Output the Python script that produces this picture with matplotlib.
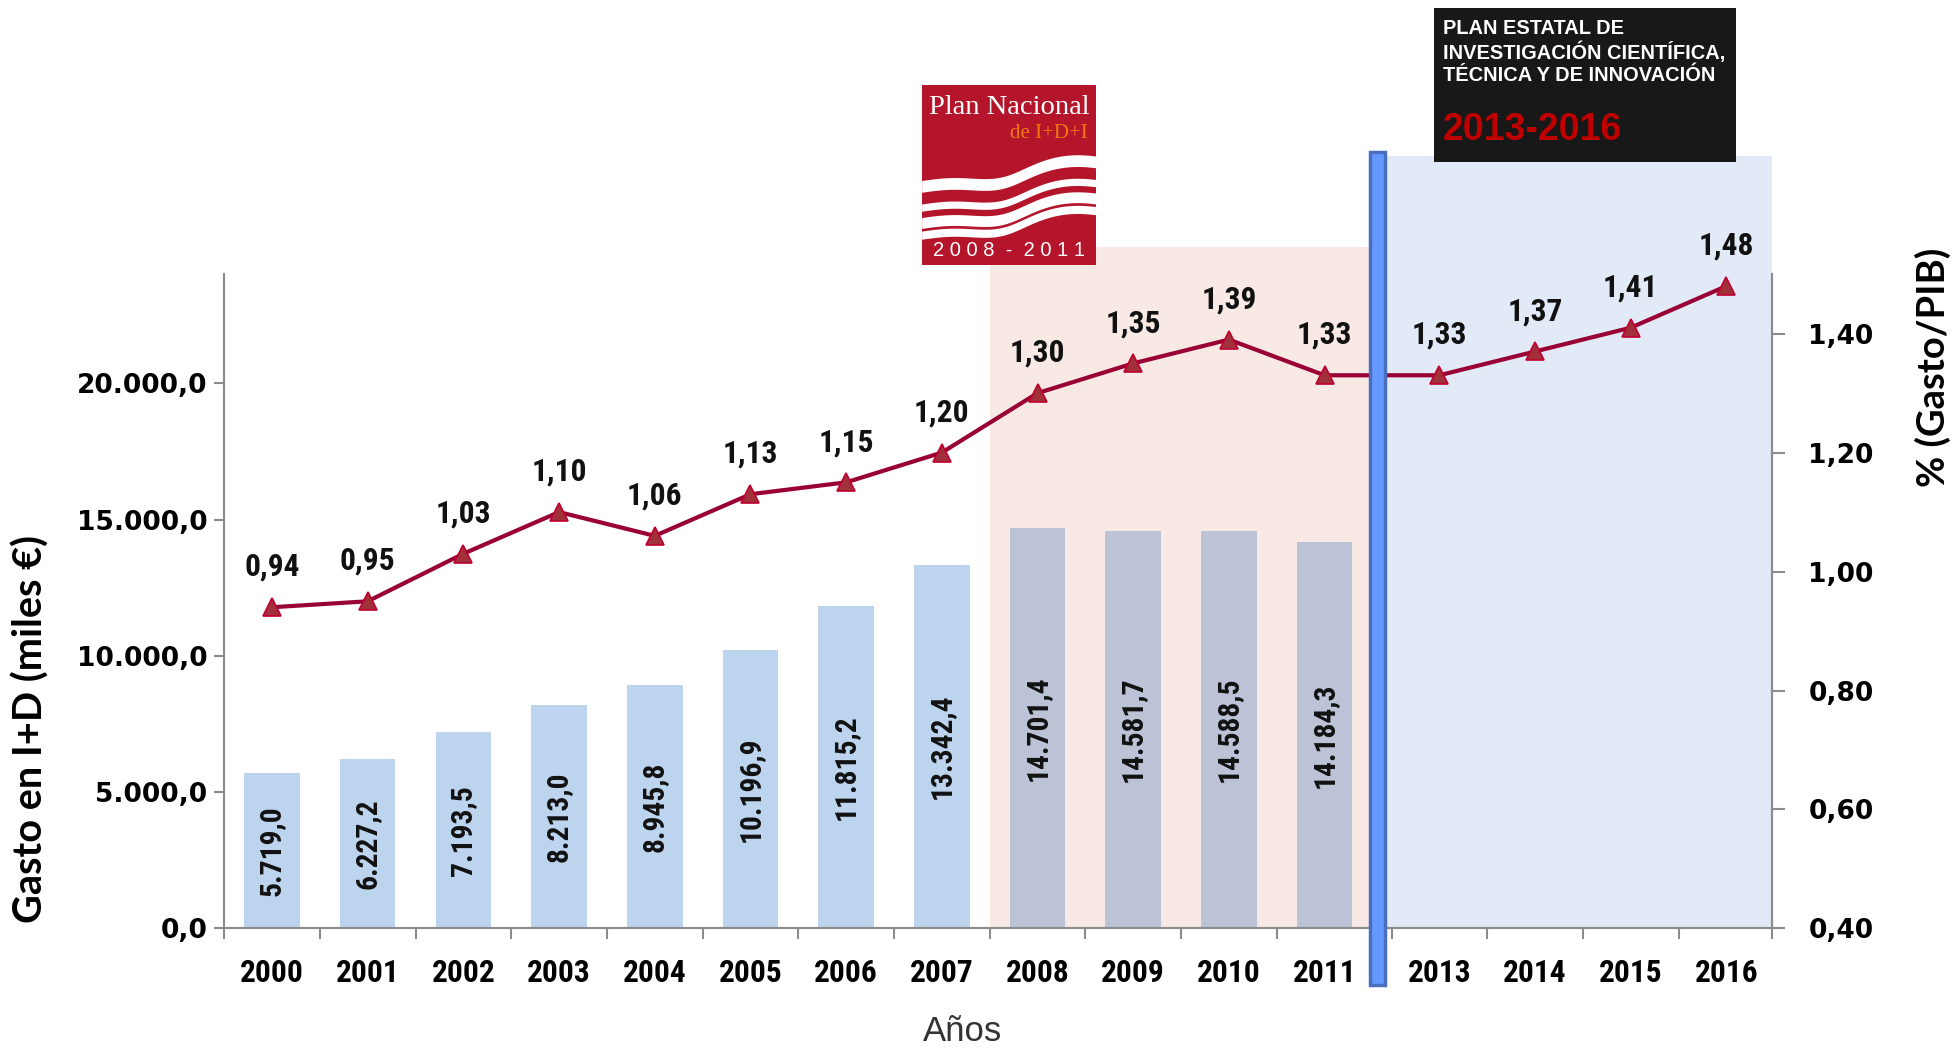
import os
import numpy as np
import matplotlib
matplotlib.use('Agg')
import matplotlib.pyplot as plt
from matplotlib.patches import Rectangle
from matplotlib import font_manager as fm
from matplotlib.font_manager import FontProperties
from matplotlib.textpath import TextPath

# data
years = ['2000', '2001', '2002', '2003', '2004', '2005', '2006', '2007',
         '2008', '2009', '2010', '2011', '2013', '2014', '2015', '2016']
gasto = [5719.0, 6227.2, 7193.5, 8213.0, 8945.8, 10196.9, 11815.2, 13342.4,
         14701.4, 14581.7, 14588.5, 14184.3]
pib = [0.94, 0.95, 1.03, 1.10, 1.06, 1.13, 1.15, 1.20,
       1.30, 1.35, 1.39, 1.33, 1.33, 1.37, 1.41, 1.48]
left_ticks = [0, 5000, 10000, 15000, 20000]
right_ticks = [0.40, 0.60, 0.80, 1.00, 1.20, 1.40]


def es_num(v, dec):
    s = f'{v:,.{dec}f}'
    return s.replace(',', 'X').replace('.', ',').replace('X', '.')


def find_font(keys):
    for key in keys:
        for f in fm.fontManager.ttflist:
            if os.path.basename(f.fname).lower().startswith(key.lower()):
                return f.fname
    return None


def load(keys, fallback):
    path = find_font(keys)
    return FontProperties(fname=path) if path else fallback


# a narrow bold face for years / values (Arial Narrow look)
NARROW = load(['LiberationSansNarrow-Bold.', 'RobotoCondensed-Bold.',
               'Roboto_Condensed-Bold.', 'NotoSans-CondensedBold.',
               'DejaVuSansCondensed-Bold.', 'OpenSans_Condensed-Bold.',
               'OpenSansCondensed-Bold.'],
              FontProperties(family='Liberation Sans', weight='bold'))
# a Calibri-like bold face for axis titles
HUMAN = load(['Lato-Bold.', 'OpenSans-Bold.', 'NotoSans-Bold.'],
             FontProperties(family='DejaVu Sans', weight='bold'))


def fit(fp, text, px):
    # font size (pt) that makes text about px pixels wide at dpi 100
    w = TextPath((0, 0), text, size=10, prop=fp).get_extents().width
    return 10 * px / (w * 100 / 72)


def sized(fp, text, px):
    p = fp.copy()
    p.set_size(fit(fp, text, px))
    return p


year_fp = sized(NARROW, '2000', 61)
point_fp = sized(NARROW, '0,94', 53)
barlab_fp = sized(NARROW, '14.701,4', 102)
ylab_fp = sized(HUMAN, 'Gasto en I+D (miles €)', 384)
y2lab_fp = sized(HUMAN, '% (Gasto/PIB)', 236)

# x positions: small gap where 2012 is skipped
idx = np.arange(len(years))
xpos = idx + np.where(idx >= 12, 0.2, 0.0)
xbar = xpos[:len(gasto)]

fig = plt.figure(figsize=(19.53, 10.48), dpi=100)
ax = fig.add_axes([0.1148, 0.1141, 0.7927, 0.6243])
ax2 = ax.twinx()

ax.set_xlim(-0.5, 15.68)
ax.set_ylim(0, 24000)
ax2.set_ylim(0.4, 1.5)

# shaded periods
ax.add_patch(Rectangle((7.5, 0), 11.47 - 7.5, 1.042, transform=ax.get_xaxis_transform(),
                       facecolor='#F9E9E5', edgecolor='none', zorder=0, clip_on=False))
ax.add_patch(Rectangle((11.62, 0), 15.68 - 11.62, 1.181, transform=ax.get_xaxis_transform(),
                       facecolor='#E3EAF7', edgecolor='none', zorder=0, clip_on=False))

# bars
bar_colors = ['#BDD4EE'] * 8 + ['#BCC3D7'] * 4
ax.bar(xbar, gasto, width=0.58, color=bar_colors, zorder=2)
for x, v in zip(xbar, gasto):
    ax.text(x, v / 2, es_num(v, 1), rotation=90, ha='center', va='center',
            fontproperties=barlab_fp, color='#111111', zorder=3)

# line
ax2.plot(xpos, pib, color='#990033', lw=3, marker='^', markersize=13,
         markerfacecolor='#A0303A', markeredgecolor='#C00030', markeredgewidth=1.2, zorder=4)
for x, v in zip(xpos, pib):
    ax2.annotate(es_num(v, 2), (x, v), xytext=(0, 29), textcoords='offset points',
                 ha='center', va='center', fontproperties=point_fp, color='#111111')

# separator bar
ax2.add_patch(Rectangle((11.47, -0.086), 0.16, 1.273, transform=ax2.get_xaxis_transform(),
                        facecolor='#6699FF', edgecolor='#4A6FC0', lw=2.5, zorder=6, clip_on=False))

# axes styling
for a in (ax, ax2):
    a.spines['top'].set_visible(False)
    for s in ('left', 'right', 'bottom'):
        a.spines[s].set_color('#8C8C8C')
        a.spines[s].set_linewidth(1.5)

ax.set_yticks(left_ticks)
ax.set_yticklabels([es_num(t, 1) for t in left_ticks])
ax.tick_params(axis='y', length=7, width=1.5, color='#8C8C8C', pad=5,
               labelsize=19)
for lab in ax.get_yticklabels():
    lab.set_fontweight('bold')

ax2.set_yticks(right_ticks)
ax2.set_yticklabels([es_num(t, 2) for t in right_ticks])
ax2.tick_params(axis='y', length=9, width=1.5, color='#8C8C8C', pad=17,
                labelsize=19)
for lab in ax2.get_yticklabels():
    lab.set_fontweight('bold')

bounds = list(np.arange(-0.5, 11.0, 1.0)) + [11.7, 12.7, 13.7, 14.7, 15.68]
ax.set_xticks(bounds)
ax.set_xticklabels([])
ax.tick_params(axis='x', which='major', length=8, width=1.5, color='#8C8C8C')
ax.set_xticks(xpos, minor=True)
ax.set_xticklabels(years, minor=True)
ax.tick_params(axis='x', which='minor', length=0, pad=21)
for lab in ax.get_xticklabels(minor=True):
    lab.set_fontproperties(year_fp)

ax.set_ylabel('Gasto en I+D (miles €)', fontproperties=ylab_fp)
ax.yaxis.set_label_coords(-0.113, 0.305)
ax2.set_ylabel('% (Gasto/PIB)', fontproperties=y2lab_fp)
ax2.yaxis.set_label_coords(1.092, 0.857)
ax.set_xlabel('Años', fontsize=25, family='Liberation Sans', color='#333333')
ax.xaxis.set_label_coords(0.477, -0.133)

# "Plan Nacional" logo
logo = fig.add_axes([0.4719, 0.7467, 0.0893, 0.1724])
logo.set_xlim(0, 1)
logo.set_ylim(0, 1)
logo.axis('off')
logo.add_patch(Rectangle((0, 0), 1, 1, facecolor='#B5152B', edgecolor='none'))
xx = np.linspace(0, 1, 200)
base = 0.375 + 0.065 * np.tanh((xx - 0.55) * 6) + 0.015 * np.sin(xx * 9)
logo.fill_between(xx, base + 0.095, base + 0.16, color='white', lw=0)
logo.fill_between(xx, base - 0.01, base + 0.03, color='white', lw=0)
logo.fill_between(xx, base - 0.105, base - 0.045, color='white', lw=0)
logo.fill_between(xx, base - 0.165, base - 0.12, color='white', lw=0)
logo.text(0.5, 0.875, 'Plan Nacional', ha='center', va='center', fontsize=20.5,
          family='Liberation Serif', color='white')
logo.text(0.95, 0.73, 'de I+D+I', ha='right', va='center', fontsize=15,
          family='Liberation Serif', color='#F07A10')
logo.text(0.5, 0.085, '2 0 0 8  -  2 0 1 1', ha='center', va='center', fontsize=14.5,
          family='Liberation Sans', color='white')

# Plan Estatal box
box = fig.add_axes([0.7341, 0.8454, 0.155, 0.1474])
box.set_xlim(0, 1)
box.set_ylim(0, 1)
box.axis('off')
box.add_patch(Rectangle((0, 0), 1, 1, facecolor='#181818', edgecolor='none'))
box.text(0.03, 0.925, 'PLAN ESTATAL DE\nINVESTIGACIÓN CIENTÍFICA,\nTÉCNICA Y DE INNOVACIÓN',
         ha='left', va='top', fontsize=14.4, fontweight='bold',
         family='Liberation Sans', color='white', linespacing=1.2)
box.text(0.03, 0.21, '2013-2016', ha='left', va='center', fontsize=27,
         fontweight='bold', family='Liberation Sans', color='#C00000')

fig.savefig('out.png', dpi=100)
